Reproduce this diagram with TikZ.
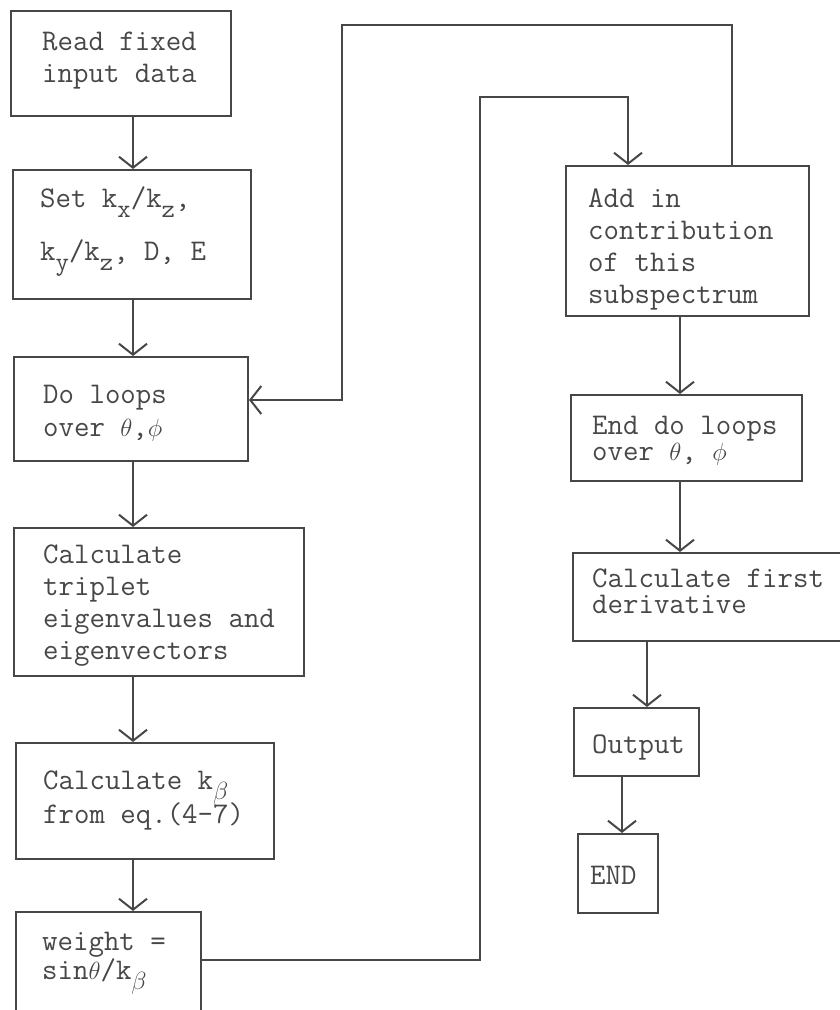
\documentclass[tikz,border=0pt]{standalone}
\usetikzlibrary{arrows.meta}
\definecolor{ink}{gray}{0.28}
\newcommand\lsub[1]{\smash{\raisebox{-10pt}{\fontsize{26}{26}\selectfont #1}}}
\begin{document}
\begin{tikzpicture}[x=1pt,y=-1pt,
  box/.style={draw=ink, line width=2pt, rectangle, inner sep=0pt, anchor=north west},
  txt/.style={anchor=base west, inner sep=0pt, text=ink, font=\fontsize{30}{32}\selectfont\ttfamily},
  arr/.style={draw=ink, line width=2pt, -{Straight Barb[length=11pt,width=28pt]}},
  conn/.style={draw=ink, line width=2pt}]
\useasboundingbox (0,0) rectangle (839,1010);

% boxes
\node[box, minimum width=220, minimum height=105] (b1) at (10,10) {};
\node[box, minimum width=238, minimum height=129] (b2) at (12,169) {};
\node[box, minimum width=234, minimum height=104] (b3) at (13,356) {};
\node[box, minimum width=290, minimum height=148] (b4) at (13,527) {};
\node[box, minimum width=258, minimum height=116] (b5) at (15,742) {};
\node[box, minimum width=185, minimum height=110] (b6) at (15,911) {};
\node[box, minimum width=243, minimum height=150] (b7) at (565,165) {};
\node[box, minimum width=231, minimum height=86] (b8) at (570,394) {};
\node[box, minimum width=288, minimum height=88] (b9) at (572,552) {};
\node[box, minimum width=125, minimum height=68] (b10) at (573,707) {};
\node[box, minimum width=80, minimum height=79] (b11) at (577,833) {};

% texts
\node[txt] (t1) at (42,50) {\begin{tabular}[t]{@{}l@{}}Read fixed\\input data\end{tabular}};
\node[txt] (t2) at (40,207) {\begin{tabular}[t]{@{}l@{}}Set k\lsub{x}/k\lsub{z},\\[21pt]k\lsub{y}/k\lsub{z}, D, E\end{tabular}};
\node[txt] (t3) at (43,403) {\begin{tabular}[t]{@{}l@{}}Do loops\\[1pt]over $\theta$,$\phi$\end{tabular}};
\node[txt] (t4) at (43,563) {\begin{tabular}[t]{@{}l@{}}Calculate\\triplet\\eigenvalues and\\eigenvectors\end{tabular}};
\node[txt] (t5) at (43,789) {\begin{tabular}[t]{@{}l@{}}Calculate k\lsub{$\beta$}\\[2pt]from eq.(4-7)\end{tabular}};
\node[txt] (t6) at (42,950) {\begin{tabular}[t]{@{}l@{}}weight =\\[-3pt]sin$\theta$/k\lsub{$\beta$}\end{tabular}};
\node[txt] (t7) at (588,207) {\begin{tabular}[t]{@{}l@{}}Add in\\contribution\\of this\\subspectrum\end{tabular}};
\node[txt] (t8) at (592,434) {\begin{tabular}[t]{@{}l@{}}End do loops\\[-6pt]over $\theta$, $\phi$\end{tabular}};
\node[txt] (t9) at (592,587) {\begin{tabular}[t]{@{}l@{}}Calculate first\\[-6pt]derivative\end{tabular}};
\node[txt] (t10) at (592,753) {Output};
\node[txt] (t11) at (590,884) {END};

% connector positions
\coordinate (cl) at (133,0);
\coordinate (cr) at (680,0);
\coordinate (co) at (647,0);
\coordinate (ce) at (622,0);
\coordinate (lA) at (732,25);
\coordinate (lB) at (342,400);
\coordinate (mA) at (480,960);
\coordinate (mB) at (628,97);

% straight arrows
\draw[arr] (b1.south -| cl) -- (b2.north -| cl);
\draw[arr] (b2.south -| cl) -- (b3.north -| cl);
\draw[arr] (b3.south -| cl) -- (b4.north -| cl);
\draw[arr] (b4.south -| cl) -- (b5.north -| cl);
\draw[arr] (b5.south -| cl) -- (b6.north -| cl);
\draw[arr] (b7.south -| cr) -- (b8.north -| cr);
\draw[arr] (b8.south -| cr) -- (b9.north -| cr);
\draw[arr] (b9.south -| co) -- (b10.north -| co);
\draw[arr] (b10.south -| ce) -- (b11.north -| ce);

% loops
\draw[arr] (b7.north -| lA) -- (lA) -| (lB) -- (b3.east |- lB);
\draw[arr] (b6.east |- mA) -- (mA) |- (mB) -- (b7.north -| mB);
\end{tikzpicture}
\end{document}
